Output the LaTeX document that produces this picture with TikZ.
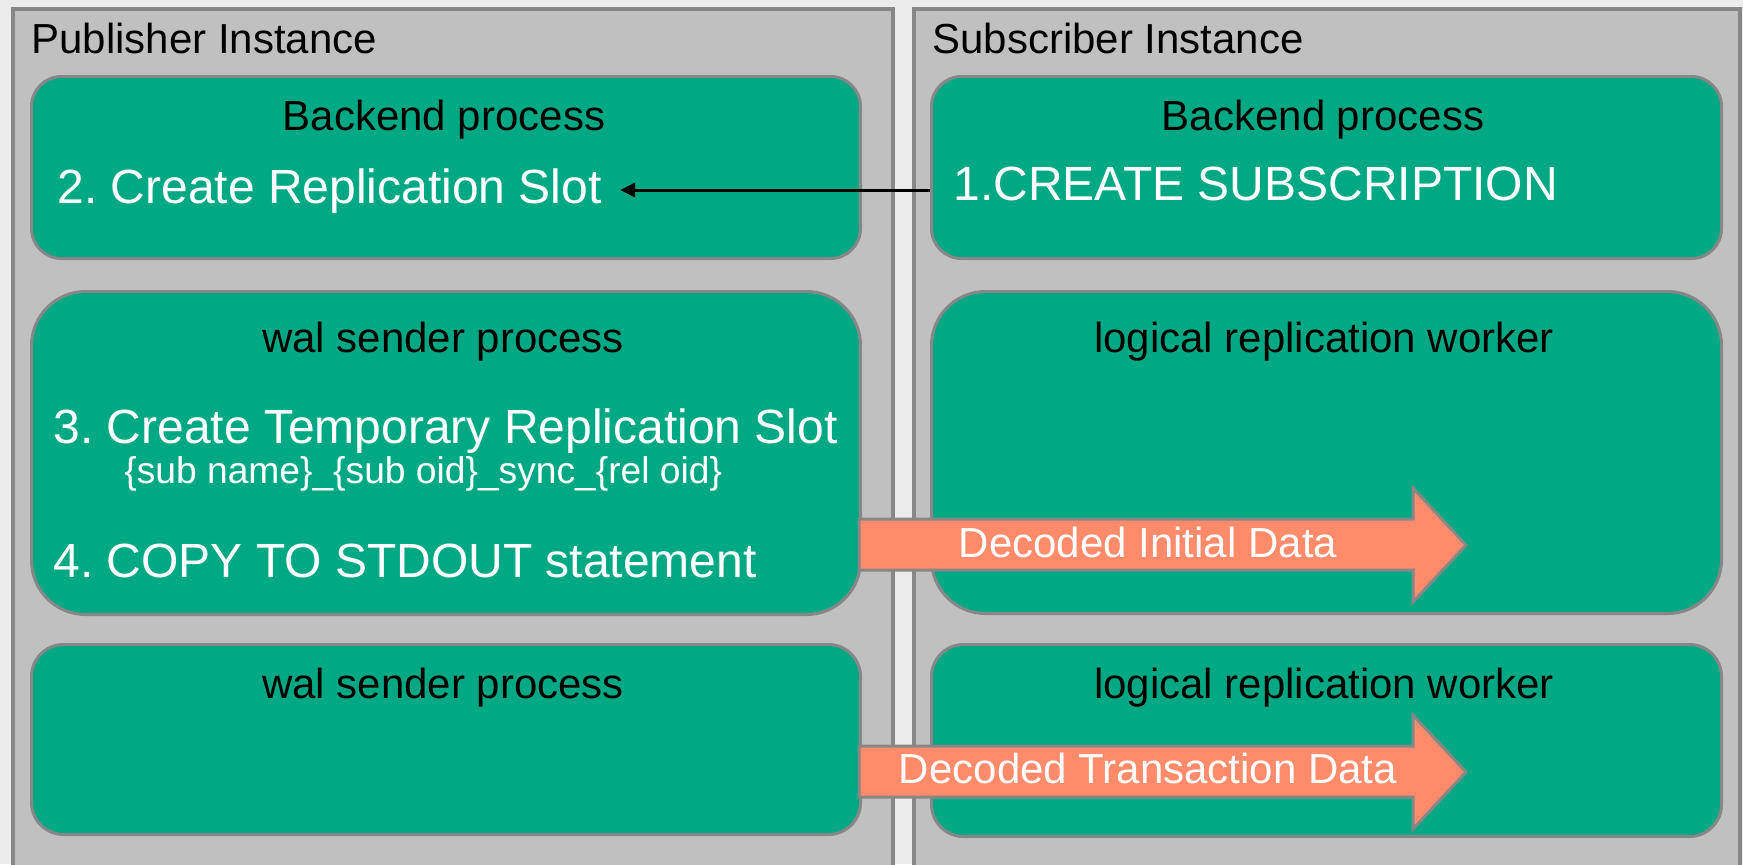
\documentclass[tikz,border=0pt]{standalone}
\usepackage{fontspec}
\setmainfont{Liberation Sans}
\usetikzlibrary{arrows.meta}
\definecolor{bgc}{HTML}{EBEBEB}
\definecolor{panelc}{HTML}{C0C0C0}
\definecolor{edgec}{HTML}{878787}
\definecolor{greenc}{HTML}{00A984}
\definecolor{salmonc}{HTML}{FF8B6B}
\frenchspacing
\begin{document}
\begin{tikzpicture}[x=0.5pt,y=-0.5pt,
  panel/.style={fill=panelc,draw=edgec,line width=1.75pt,anchor=north west,inner sep=0pt},
  procbox/.style={fill=greenc,draw=edgec,line width=1.5pt,anchor=north west,inner sep=0pt},
  hdw/.style={font=\fontsize{21}{25}\selectfont,text=black,inner sep=0pt,anchor=base west},
  hdc/.style={font=\fontsize{21}{25}\selectfont,text=black,inner sep=0pt,anchor=base},
  stepx/.style={font=\fontsize{24}{28}\selectfont,text=white,inner sep=0pt,anchor=base west},
  subx/.style={font=\fontsize{18.6}{22}\selectfont,text=white,inner sep=0pt,anchor=base west},
  flowtext/.style={font=\fontsize{21}{25}\selectfont,text=white,inner sep=0pt,anchor=base},
  blockarrow/.style={fill=salmonc,draw=edgec,line width=1.5pt},
  callarrow/.style={draw=black,line width=1.5pt,-{Triangle[length=7.5pt,width=7pt]}}
]
% background / bounding box
\path[fill=bgc] (0,0) rectangle (1743,864);
\useasboundingbox (0,0) rectangle (1743,864);

% instances
\node[panel,minimum width=440pt,minimum height=436.5pt] (pubP) at (11,7) {};
\node[panel,minimum width=413pt,minimum height=436.5pt] (subP) at (912,7) {};
\node[hdw] (pubT) at (31,53) {Publisher Instance};
\node[hdw] (subT) at (932,53) {Subscriber Instance};

% process boxes
\node[procbox,rounded corners=15pt,minimum width=414.5pt,minimum height=91pt] (bL) at (30,75) {};
\node[procbox,rounded corners=15pt,minimum width=395pt,minimum height=91pt] (bR) at (930,75) {};
\node[procbox,rounded corners=27pt,minimum width=414.5pt,minimum height=161.5pt] (wL1) at (30,290) {};
\node[procbox,rounded corners=27pt,minimum width=395pt,minimum height=161pt] (lR1) at (930,290) {};
\node[procbox,rounded corners=16pt,minimum width=414.5pt,minimum height=95pt] (wL2) at (30,643) {};
\node[procbox,rounded corners=16pt,minimum width=395pt,minimum height=96pt] (lR2) at (930,643) {};

% headings
\node[hdc] (bLT) at (444,130) {Backend process};
\node[hdc] (bRT) at (1323,130) {Backend process};
\node[hdc] (wL1T) at (443,352) {wal sender process};
\node[hdc] (lR1T) at (1324,352) {logical replication worker};
\node[hdc] (wL2T) at (443,698) {wal sender process};
\node[hdc] (lR2T) at (1324,698) {logical replication worker};

% steps
\node[stepx] (s2) at (57,203) {2. Create Replication Slot};
\node[stepx] (s1) at (953,200) {1.CREATE SUBSCRIPTION};
\node[stepx] (s3) at (53,443) {3. Create Temporary Replication Slot};
\node[subx] (s3n) at (124,483) {\{sub name\}\_\{sub oid\}\_sync\_\{rel oid\}};
\node[stepx] (s4) at (53,577) {4. COPY TO STDOUT statement};

% call arrow
\coordinate (tipA) at ([xshift=9pt]s2.east);
\draw[callarrow] (bR.west |- 0,190) -- (tipA |- 0,190);

% block arrows
\path[blockarrow] (859,519) -- (1413,519) -- (1413,488) -- (1466,545) -- (1413,602) -- (1413,570) -- (859,570) -- cycle;
\node[flowtext] (f1) at (1148,557) {Decoded Initial Data};
\path[blockarrow] (859,746) -- (1413,746) -- (1413,715) -- (1466,772) -- (1413,829) -- (1413,797) -- (859,797) -- cycle;
\node[flowtext] (f2) at (1148,783) {Decoded Transaction Data};
\end{tikzpicture}
\end{document}
